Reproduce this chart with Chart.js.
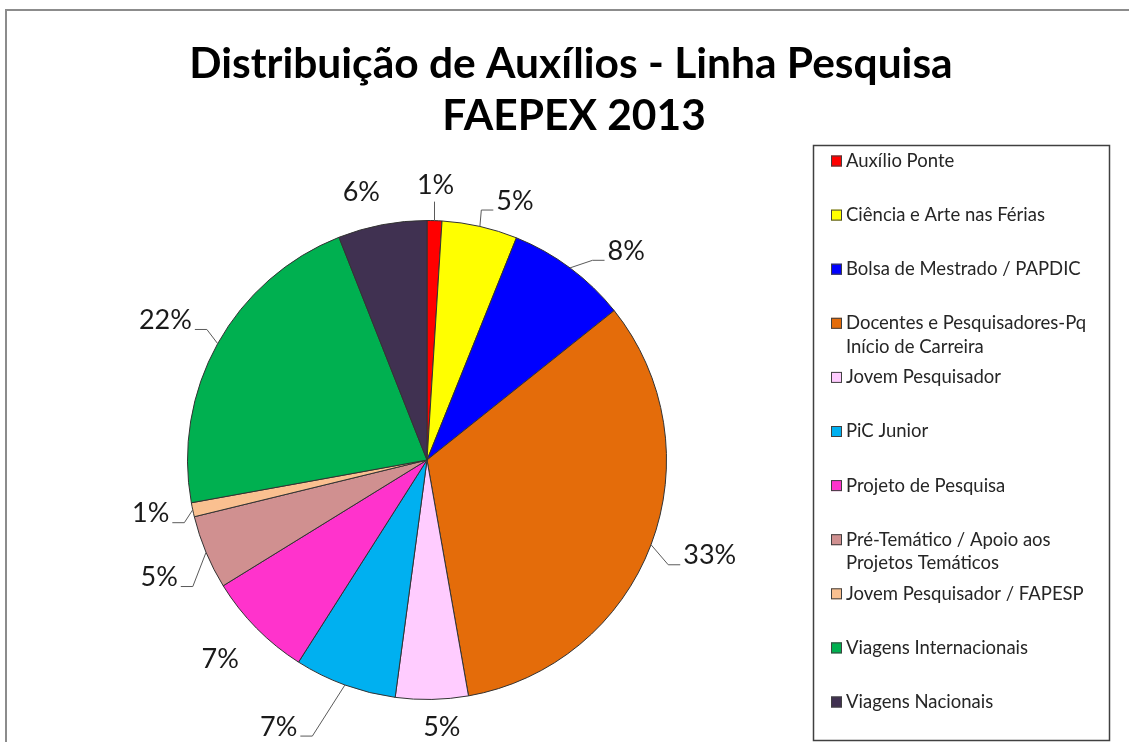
<!DOCTYPE html>
<html>
<head>
<meta charset="utf-8">
<script src="https://cdn.jsdelivr.net/npm/chart.js@4.4.1/dist/chart.umd.min.js"></script>
<style>
  html, body { margin: 0; padding: 0; background: #ffffff; }
  #wrap { width: 1129px; height: 742px; position: relative; }
</style>
</head>
<body>
<div id="wrap"><canvas id="c" width="1129" height="742"></canvas></div>
<script>
// ---- Data ----
const titleLines = ['Distribuição de Auxílios - Linha Pesquisa', 'FAEPEX 2013'];
const categories = [
  'Auxílio Ponte',
  'Ciência e Arte nas Férias',
  'Bolsa de Mestrado / PAPDIC',
  ['Docentes e Pesquisadores-Pq', 'Início de Carreira'],
  'Jovem Pesquisador',
  'PiC Junior',
  'Projeto de Pesquisa',
  ['Pré-Temático / Apoio aos', 'Projetos Temáticos'],
  'Jovem Pesquisador / FAPESP',
  'Viagens Internacionais',
  'Viagens Nacionais'
];
const shares = [1.0, 5.1, 8.2, 33.0, 4.9, 6.9, 7.2, 5.0, 0.95, 21.9, 6.0];
const sliceColors = ['#FF0000', '#FFFF00', '#0000FF', '#E46C0A', '#FFCCFF', '#00B0F0',
                     '#FF33CC', '#D09090', '#FAC090', '#00B050', '#403151'];

// ---- Label styling (per-slice nudges, in degrees and pixels) ----
const labelNudgeDeg = [0, 6, 7, -2, -2, 9, 0.6, -1, 1, -1, -3];
const labelDist     = [35, 34, 49, 59, 28, 66, 48, 53, 42, 57, 36];
const labelLeader   = [true, true, true, true, false, true, false, true, true, true, false];

const total = shares.reduce((a, b) => a + b, 0);
const pctText = shares.map(v => Math.round(v / total * 100) + '%');

const FONT = 'Lato, "Open Sans", "Liberation Sans", sans-serif';

const framePlugin = {
  id: 'frame',
  beforeDraw(chart) {
    const ctx = chart.ctx;
    ctx.save();
    ctx.fillStyle = '#ffffff';
    ctx.fillRect(0, 0, chart.width, chart.height);
    ctx.strokeStyle = '#8c8c8c';
    ctx.lineWidth = 2;
    ctx.beginPath();
    ctx.moveTo(6, chart.height);
    ctx.lineTo(6, 10);
    ctx.lineTo(chart.width, 10);
    ctx.stroke();
    // title
    ctx.fillStyle = '#000000';
    ctx.textAlign = 'center';
    ctx.textBaseline = 'alphabetic';
    ctx.font = 'bold 42.5px ' + FONT;
    ctx.fillText(titleLines[0], 571, 78);
    ctx.fillText(titleLines[1], 574, 130);
    ctx.restore();
  }
};

const legendPlugin = {
  id: 'boxLegend',
  afterDraw(chart) {
    const ctx = chart.ctx;
    ctx.save();
    ctx.strokeStyle = '#404040';
    ctx.lineWidth = 1.5;
    ctx.strokeRect(813.5, 145.5, 296, 595);
    ctx.font = '18.5px ' + FONT;
    ctx.textBaseline = 'middle';
    ctx.textAlign = 'left';
    const labels = chart.data.labels;
    const bg = chart.data.datasets[0].backgroundColor;
    labels.forEach((lab, i) => {
      const yc = 161 + i * 54.1;
      ctx.fillStyle = bg[i];
      ctx.fillRect(831, yc - 5.5, 11, 11);
      ctx.strokeStyle = '#404040';
      ctx.lineWidth = 1;
      ctx.strokeRect(831.5, yc - 5, 10, 10);
      ctx.fillStyle = '#262626';
      const lines = Array.isArray(lab) ? lab : [lab];
      lines.forEach((ln, k) => ctx.fillText(ln, 846, yc + k * 23.5));
    });
    ctx.restore();
  }
};

const pctPlugin = {
  id: 'pctLabels',
  afterDatasetsDraw(chart) {
    const ctx = chart.ctx;
    const meta = chart.getDatasetMeta(0);
    ctx.save();
    ctx.font = '27px ' + FONT;
    ctx.textAlign = 'center';
    ctx.textBaseline = 'middle';
    meta.data.forEach((arc, i) => {
      const p = arc.getProps(['x', 'y', 'startAngle', 'endAngle', 'outerRadius'], true);
      const mid = (p.startAngle + p.endAngle) / 2;
      const la = mid + labelNudgeDeg[i] * Math.PI / 180;
      const lr = p.outerRadius + labelDist[i];
      const lx = p.x + Math.cos(la) * lr;
      const ly = p.y + Math.sin(la) * lr;
      const txt = pctText[i];
      if (labelLeader[i]) {
        const ax = p.x + Math.cos(mid) * p.outerRadius;
        const ay = p.y + Math.sin(mid) * p.outerRadius;
        ctx.strokeStyle = '#5a5a5a';
        ctx.lineWidth = 1;
        ctx.beginPath();
        if (Math.abs(Math.cos(la)) < 0.2) {
          ctx.moveTo(ax, ay);
          ctx.lineTo(ax, ly + 16);
        } else {
          const w = ctx.measureText(txt).width;
          const by = ly + 9;
          let stub, elbow;
          if (Math.cos(la) > 0) { stub = lx - w / 2 - 3; elbow = stub - 12; }
          else { stub = lx + w / 2 + 3; elbow = stub + 12; }
          ctx.moveTo(ax, ay);
          ctx.lineTo(elbow, by);
          ctx.lineTo(stub, by);
        }
        ctx.stroke();
      }
      ctx.fillStyle = '#1a1a1a';
      ctx.fillText(txt, lx, ly);
    });
    ctx.restore();
  }
};

new Chart(document.getElementById('c'), {
  type: 'pie',
  data: {
    labels: categories,
    datasets: [{
      data: shares,
      backgroundColor: sliceColors,
      borderColor: '#333333',
      borderWidth: 1
    }]
  },
  options: {
    responsive: false,
    devicePixelRatio: 1,
    animation: false,
    layout: { padding: { left: 187, top: 220, right: 462, bottom: 42 } },
    plugins: {
      legend: { display: false },
      title: { display: false },
      tooltip: { enabled: false }
    }
  },
  plugins: [framePlugin, pctPlugin, legendPlugin]
});
</script>
</body>
</html>
